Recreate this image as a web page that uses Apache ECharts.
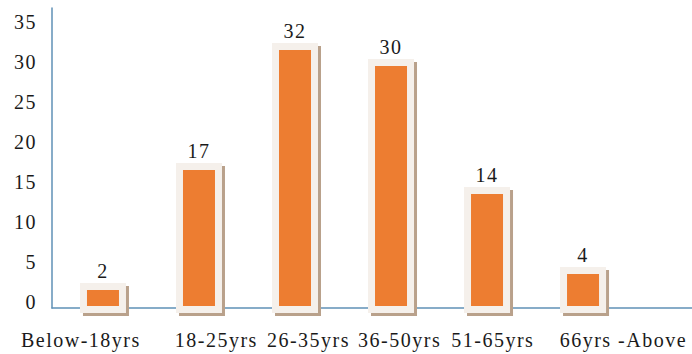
<!DOCTYPE html>
<html>
<head>
<meta charset="utf-8">
<script src="https://cdn.jsdelivr.net/npm/echarts@6/dist/echarts.min.js"></script>
<style>
  html, body { margin: 0; padding: 0; background: #fff; }
  #chart { width: 692px; height: 354px; }
  #chart text { letter-spacing: 1.5px; }
</style>
</head>
<body>
<div id="chart"></div>
<script>
// Respondents by age group
const categories = ['Below-18yrs', '18-25yrs', '26-35yrs', '36-50yrs', '51-65yrs', '66yrs -Above'];
const counts = [2, 17, 32, 30, 14, 4];
const yTicks = [0, 5, 10, 15, 20, 25, 30, 35];

// layout: horizontal nudge of each category label, in category units
const labelNudge = [-0.23, 0.18, 0.14, 0.09, 0.06, 0.42];

const serif = 'Liberation Serif';
const axisBlue = '#5f91b6';
const barInner = 32;   // orange column width, px
const framePad = 7;    // light frame around each column, px

const chart = echarts.init(document.getElementById('chart'), null, { renderer: 'svg' });

// Orange column with a pale frame and a brown drop shadow, value label above
function renderFramedBar(params, api) {
  const base = api.coord([api.value(0), 0]);
  const top = api.coord([api.value(0), api.value(1)]);
  const cx = base[0];
  const h = base[1] - top[1];
  return {
    type: 'group',
    children: [
      {
        type: 'rect',
        shape: {
          x: cx - barInner / 2 - framePad,
          y: top[1] - framePad,
          width: barInner + framePad * 2,
          height: h + framePad * 2
        },
        style: {
          fill: '#f5f0eb',
          shadowColor: '#b9a18b',
          shadowOffsetX: 3,
          shadowOffsetY: 3,
          shadowBlur: 0
        }
      },
      {
        type: 'rect',
        shape: { x: cx - barInner / 2, y: top[1], width: barInner, height: h },
        style: { fill: '#ED7D31' }
      },
      {
        type: 'text',
        x: cx,
        y: top[1] - framePad - 2,
        style: {
          text: String(api.value(1)),
          align: 'center',
          verticalAlign: 'bottom',
          fontFamily: serif,
          fontSize: 20,
          fill: '#1a1a1a'
        }
      }
    ]
  };
}

chart.setOption({
  animation: false,
  backgroundColor: '#ffffff',
  grid: { left: 52, right: 0, top: 8, bottom: 46, outerBoundsMode: 'none' },
  xAxis: {
    type: 'value',
    min: -0.531,
    max: 6.135,
    splitLine: { show: false },
    axisTick: { show: false },
    axisLine: { show: true, onZero: false, lineStyle: { color: axisBlue, width: 1.5 } },
    axisLabel: {
      customValues: categories.map((c, i) => i + labelNudge[i]),
      formatter: v => categories[Math.round(v)],
      fontFamily: serif,
      fontSize: 20,
      color: '#1a1a1a',
      margin: 22
    }
  },
  yAxis: {
    type: 'value',
    min: -0.25,
    max: 37.25,
    splitLine: { show: false },
    axisTick: { show: false },
    axisLine: { show: true, onZero: false, lineStyle: { color: axisBlue, width: 1.5 } },
    axisLabel: {
      customValues: yTicks,
      fontFamily: serif,
      fontSize: 20,
      color: '#1a1a1a',
      margin: 15,
      verticalAlign: 'bottom',
      lineHeight: 8
    }
  },
  series: [{
    type: 'custom',
    clip: false,
    renderItem: renderFramedBar,
    encode: { x: 0, y: 1 },
    data: counts.map((v, i) => [i, v])
  }]
});
</script>
</body>
</html>
